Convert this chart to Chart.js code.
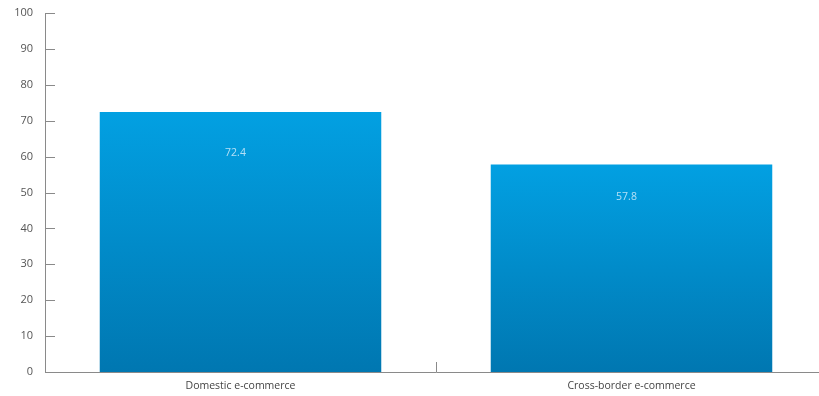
<!DOCTYPE html>
<html>
<head>
<meta charset="utf-8">
<script src="https://cdn.jsdelivr.net/npm/chart.js@4.4.1/dist/chart.umd.min.js"></script>
<style>
html,body{margin:0;padding:0;background:#fff;overflow:hidden;}
#wrap{width:819px;height:396px;position:relative;overflow:hidden;}
#c{position:absolute;left:0;top:0;}
</style>
</head>
<body>
<div id="wrap"><canvas id="c" width="827" height="396"></canvas></div>
<script>
const categories = ["Domestic e-commerce", "Cross-border e-commerce"];
const values = [72.4, 57.8];
const yTicks = [0, 10, 20, 30, 40, 50, 60, 70, 80, 90, 100];

const FONT = "'Open Sans', 'DejaVu Sans', sans-serif";
const AXIS = "#8a8a8a";

const innerTicks = {
  id: 'innerTicks',
  afterDraw(chart) {
    const ctx = chart.ctx, x = chart.scales.x, y = chart.scales.y;
    const ca = chart.chartArea;
    ctx.save();
    ctx.strokeStyle = AXIS;
    ctx.lineWidth = 1;
    ctx.beginPath();
    ctx.moveTo(ca.left + 0.5, y.getPixelForValue(100));
    ctx.lineTo(ca.left + 0.5, ca.bottom + 0.5);
    ctx.lineTo(ca.right, ca.bottom + 0.5);
    y.ticks.forEach(t => {
      const py = Math.round(y.getPixelForValue(t.value)) + 0.5;
      ctx.moveTo(ca.left, py);
      ctx.lineTo(ca.left + 10, py);
    });
    for (let i = 1; i < categories.length; i++) {
      const px = Math.round((x.getPixelForValue(i - 1) + x.getPixelForValue(i)) / 2) + 0.5;
      ctx.moveTo(px, ca.bottom);
      ctx.lineTo(px, ca.bottom - 10);
    }
    ctx.stroke();
    // value labels
    const meta = chart.getDatasetMeta(0);
    ctx.fillStyle = 'rgba(200,232,250,0.9)';
    ctx.font = "10.5px " + FONT;
    ctx.textAlign = 'center';
    ctx.textBaseline = 'middle';
    meta.data.forEach((bar, i) => {
      const ly = bar.y + 0.157 * (bar.base - bar.y);
      ctx.fillText(String(values[i]), bar.x - 5, ly);
    });
    ctx.restore();
  }
};

new Chart(document.getElementById('c'), {
  type: 'bar',
  data: {
    labels: categories,
    datasets: [{
      data: values,
      borderWidth: 0,
      backgroundColor(context) {
        const chart = context.chart;
        const ca = chart.chartArea;
        if (!ca) return '#0090d0';
        const top = chart.scales.y.getPixelForValue(values[context.dataIndex]);
        const g = chart.ctx.createLinearGradient(0, top, 0, ca.bottom);
        g.addColorStop(0, '#02a0e2');
        g.addColorStop(1, '#0077b1');
        return g;
      },
      barPercentage: 0.72,
      categoryPercentage: 1.0
    }]
  },
  options: {
    responsive: false,
    animation: false,
    devicePixelRatio: 1,
    layout: { padding: { top: 13, right: 0, left: 0, bottom: 0 } },
    plugins: { legend: { display: false }, tooltip: { enabled: false } },
    scales: {
      x: {
        grid: { display: false, drawTicks: false },
        border: { display: false },
        ticks: { color: '#444', font: { family: FONT, size: 10.5 }, padding: 8 },
        afterFit(s) { s.height = 24; s.paddingLeft = 0; s.paddingRight = 0; }
      },
      y: {
        min: 0, max: 100,
        afterBuildTicks(s) { s.ticks = yTicks.map(v => ({ value: v })); },
        grid: { display: false, drawTicks: false },
        border: { display: false },
        ticks: { color: '#555', font: { family: FONT, size: 11 }, padding: 12 },
        afterFit(s) { s.width = 45; s.paddingTop = 0; s.paddingBottom = 0; }
      }
    }
  },
  plugins: [innerTicks]
});
</script>
</body>
</html>
